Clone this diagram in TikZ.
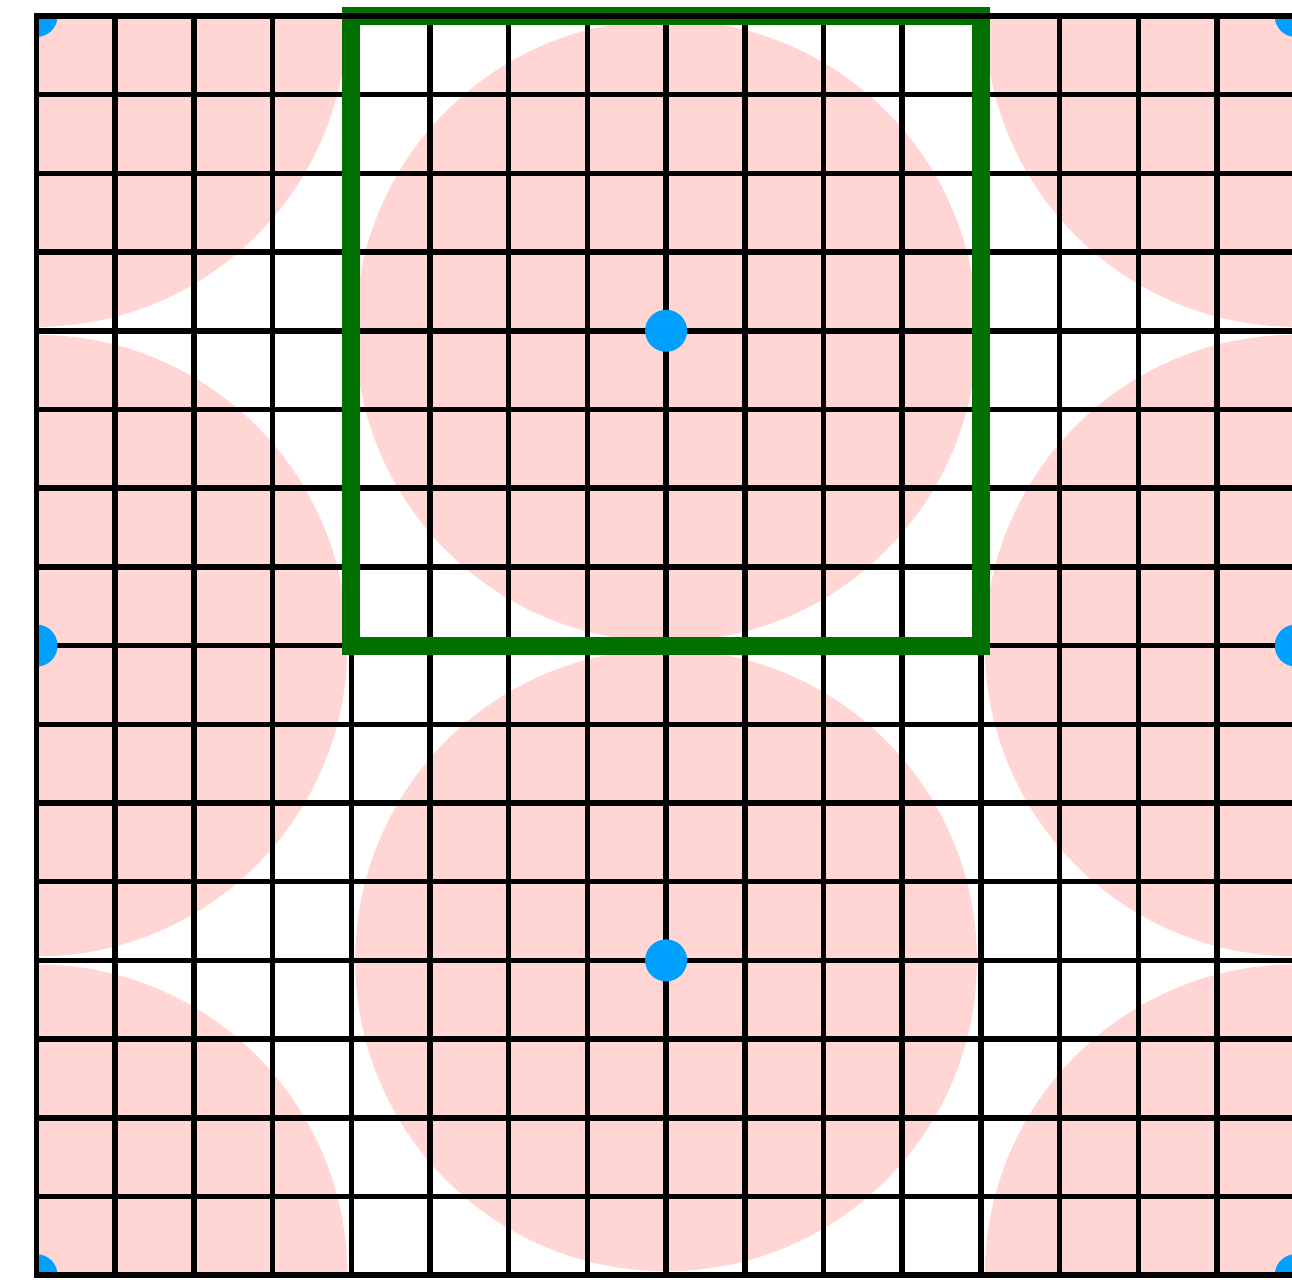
\documentclass[tikz,border=0pt]{standalone}
\definecolor{cellpink}{RGB}{255,214,212}
\definecolor{cellgreen}{RGB}{0,112,0}
\definecolor{siteblue}{RGB}{0,160,255}
\begin{document}
\begin{tikzpicture}[line width=0.07cm]
  \useasboundingbox (-0.464,-0.061) rectangle (15.953,16.203);
  \begin{scope}
    \clip (0,0) rectangle (16,16);
    \foreach \p in {(8,12),(8,4),(0,0),(0,8),(0,16),(16,0),(16,8),(16,16)}
      \fill[cellpink] \p circle[radius=3.95];
    \draw (0,0) grid (16,16);
    \foreach \p in {(8,12),(8,4),(0,0),(0,8),(0,16),(16,0),(16,8),(16,16)}
      \fill[siteblue] \p circle[radius=0.267];
  \end{scope}
  \draw[cellgreen, line width=0.229cm] (4,8) rectangle (12,16);
  \draw (0,0) rectangle (16,16);
\end{tikzpicture}
\end{document}
